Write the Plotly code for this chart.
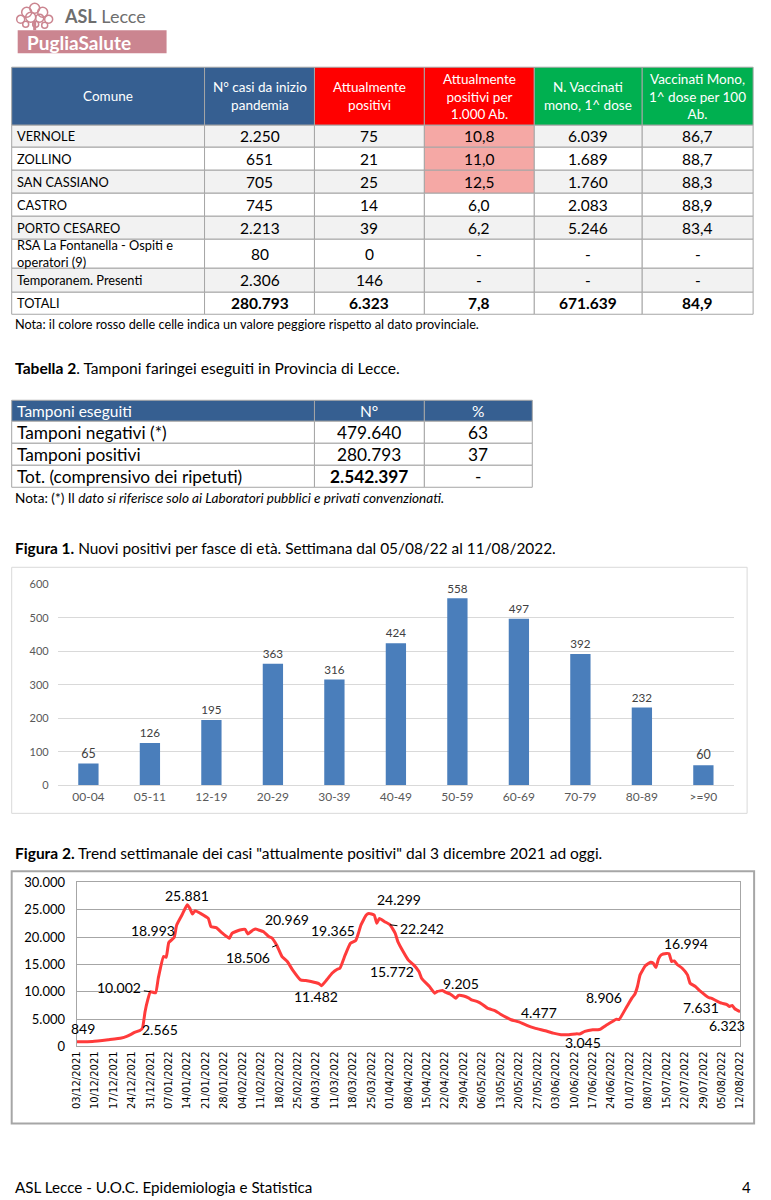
import plotly.graph_objects as go
from datetime import datetime

W, H = 771, 1200
# small correction for the capture's observed offset/scale (layout only)
OFF_X, OFF_Y, SC = 6.3, 6.8, 0.9865
def px(x): return ((x - OFF_X) / SC) / W
def py(y): return 1 - ((y - OFF_Y) / SC) / H

FONT = "Lato"
BLUE = "#365F91"
RED = "#FF0000"
GREEN = "#00B050"
PINK = "#F5A8A5"
GRAYROW = "#F2F2F2"
BORDER = "#A6A6A6"

# ---------------- Table 1 data ----------------
comuni = ["VERNOLE", "ZOLLINO", "SAN CASSIANO", "CASTRO", "PORTO CESAREO",
          "RSA La Fontanella - Ospiti e<br>operatori (9)", "Temporanem. Presenti", "TOTALI"]
casi_totali = [2250, 651, 705, 745, 2213, 80, 2306, 280793]
attualmente_positivi = [75, 21, 25, 14, 39, 0, 146, 6323]
positivi_per_1000 = [10.8, 11.0, 12.5, 6.0, 6.2, None, None, 7.8]
vaccinati_mono = [6039, 1689, 1760, 2083, 5246, None, None, 671639]
vaccinati_per_100 = [86.7, 88.7, 88.3, 88.9, 83.4, None, None, 84.9]
peggiore_provinciale = [True, True, True, False, False, False, False, False]
header_t1 = ["Comune", "N° casi da inizio<br>pandemia", "Attualmente<br>positivi",
             "Attualmente<br>positivi per<br>1.000 Ab.", "N. Vaccinati<br>mono, 1^ dose",
             "Vaccinati Mono,<br>1^ dose per 100<br>Ab."]

# ---------------- Table 2 data ----------------
tamponi_voci = ["Tamponi negativi (*)", "Tamponi positivi", "Tot. (comprensivo dei ripetuti)"]
tamponi_n = [479640, 280793, 2542397]
tamponi_pct = [63, 37, None]
header_t2 = ["Tamponi eseguiti", "N°", "%"]

# ---------------- Figure 1 data ----------------
fasce_eta = ["00-04", "05-11", "12-19", "20-29", "30-39", "40-49", "50-59", "60-69", "70-79", "80-89", ">=90"]
nuovi_positivi = [65, 126, 195, 363, 316, 424, 558, 497, 392, 232, 60]

# ---------------- Figure 2 data ----------------
trend_date = [
    "2021-12-03", "2021-12-09", "2021-12-15", "2021-12-20", "2021-12-22", "2021-12-24", "2021-12-25",
    "2021-12-27", "2021-12-28", "2021-12-29", "2021-12-30", "2021-12-31", "2022-01-02", "2022-01-03",
    "2022-01-05", "2022-01-06", "2022-01-07", "2022-01-09", "2022-01-10", "2022-01-12", "2022-01-14",
    "2022-01-15", "2022-01-16", "2022-01-17", "2022-01-19", "2022-01-22", "2022-01-23", "2022-01-25",
    "2022-01-27", "2022-01-30", "2022-01-31", "2022-02-03", "2022-02-05", "2022-02-06", "2022-02-08",
    "2022-02-09", "2022-02-10", "2022-02-12", "2022-02-14", "2022-02-15", "2022-02-17", "2022-02-19",
    "2022-02-21", "2022-02-23", "2022-02-26", "2022-02-28", "2022-03-02", "2022-03-05", "2022-03-06",
    "2022-03-08", "2022-03-10", "2022-03-12", "2022-03-13", "2022-03-15", "2022-03-17", "2022-03-19",
    "2022-03-20", "2022-03-21", "2022-03-23", "2022-03-24", "2022-03-26", "2022-03-27", "2022-03-28",
    "2022-03-30", "2022-04-01", "2022-04-03", "2022-04-04", "2022-04-06", "2022-04-08", "2022-04-10",
    "2022-04-12", "2022-04-13", "2022-04-16", "2022-04-18", "2022-04-19", "2022-04-21", "2022-04-22",
    "2022-04-24", "2022-04-26", "2022-04-27", "2022-04-29", "2022-05-01", "2022-05-02", "2022-05-04",
    "2022-05-06", "2022-05-08", "2022-05-11", "2022-05-13", "2022-05-15", "2022-05-17", "2022-05-20",
    "2022-05-23", "2022-05-26", "2022-05-30", "2022-06-02", "2022-06-05", "2022-06-08", "2022-06-11",
    "2022-06-12", "2022-06-14", "2022-06-17", "2022-06-19", "2022-06-20", "2022-06-22", "2022-06-25",
    "2022-06-26", "2022-06-27", "2022-06-30", "2022-07-02", "2022-07-03", "2022-07-04", "2022-07-05",
    "2022-07-07", "2022-07-09", "2022-07-10", "2022-07-11", "2022-07-12", "2022-07-13", "2022-07-15",
    "2022-07-16", "2022-07-17", "2022-07-18", "2022-07-19", "2022-07-21", "2022-07-23", "2022-07-24",
    "2022-07-26", "2022-07-28", "2022-07-31", "2022-08-01", "2022-08-03", "2022-08-05", "2022-08-07",
    "2022-08-08", "2022-08-09", "2022-08-10", "2022-08-12",
]
trend_positivi = [
    849, 900, 1220, 1520, 1820, 2300, 2565,
    2900, 3340, 6390, 8500, 10002, 9800, 12460,
    16420, 16300, 18993, 19890, 22200, 24030, 25881,
    25240, 24210, 24820, 24330, 23410, 21900, 21720,
    20860, 19760, 20680, 21290, 21400, 20570, 21290,
    21480, 21300, 20969, 20070, 19890, 18506, 16420,
    15510, 14000, 12170, 12040, 11860, 11482, 11100,
    12170, 13380, 14110, 14290, 16730, 18850, 19365,
    20680, 22210, 24030, 24299, 24030, 22500, 23410,
    22810, 22242, 20680, 19160, 17340, 15772, 14910,
    13690, 12470, 10950, 9730, 10040, 10220, 9910,
    9540, 8810, 9310, 9205, 8810, 8520, 8210,
    7720, 6990, 6510, 5890, 5350, 4870, 4477,
    3830, 3340, 2860, 2430, 2140, 2140, 2320,
    2250, 2740, 3045, 3050, 3160, 3830, 4690,
    4980, 4900, 7300, 8906, 9540, 10950, 13080,
    14730, 15390, 15210, 14420, 16000, 16730, 16994,
    16950, 15510, 15640, 15020, 14290, 13080, 11550,
    10950, 10040, 8940, 8810, 8340, 7900, 7631,
    7300, 7480, 6880, 6323,
]
tick_labels_fig2 = [
    "03/12/2021", "10/12/2021", "17/12/2021", "24/12/2021", "31/12/2021", "07/01/2022", "14/01/2022",
    "21/01/2022", "28/01/2022", "04/02/2022", "11/02/2022", "18/02/2022", "25/02/2022", "04/03/2022",
    "11/03/2022", "18/03/2022", "25/03/2022", "01/04/2022", "08/04/2022", "15/04/2022", "22/04/2022",
    "29/04/2022", "06/05/2022", "13/05/2022", "20/05/2022", "27/05/2022", "03/06/2022", "10/06/2022",
    "17/06/2022", "24/06/2022", "01/07/2022", "08/07/2022", "15/07/2022", "22/07/2022", "29/07/2022",
    "05/08/2022", "12/08/2022",
]
# labelled points -> (dx, dy, leader line) in screen pixels (style only)
label_style = {
    "2021-12-03": (6, -13, False), "2021-12-25": (25, -3, False), "2021-12-31": (-31, -4, True),
    "2022-01-07": (-16, -12, False), "2022-01-14": (0, -9, False), "2022-02-12": (23, -12, False),
    "2022-02-17": (-29, 12, True), "2022-03-05": (-3, 13, False), "2022-03-19": (-23, -10, False),
    "2022-03-24": (30, -14, False), "2022-04-01": (32, 4, True), "2022-04-08": (-16, 11, False),
    "2022-04-29": (-3, -13, False), "2022-05-20": (20, -9, False), "2022-06-17": (-10, 13, False),
    "2022-07-02": (-28, 0, False), "2022-07-15": (20, -10, False), "2022-08-07": (-26, 3, False),
    "2022-08-12": (-13, 14, False),
}

# ---------------- table geometry (pixels, style only) ----------------
T1_COLS = [12, 205, 315, 425, 535, 643, 754]
T1_ROWS = [66, 124, 146, 169, 192, 215, 238, 267, 291, 313]
T2_COLS = [12, 315, 425, 533]
T2_ROWS = [399, 420, 442, 464, 486]


def it_int(v):
    return "-" if v is None else f"{v:,}".replace(",", ".")


def it_dec(v):
    return "-" if v is None else f"{v:.1f}".replace(".", ",")


fig = go.Figure()
annotations = []
shapes = []


def txt(x, y, text, size, color="black", xanchor="left", family=FONT, align="left"):
    annotations.append(dict(x=px(x), y=py(y), xref="paper", yref="paper", text=text,
                            showarrow=False, xanchor=xanchor, yanchor="middle", align=align,
                            font=dict(family=family, size=size, color=color)))


def cell(x0, x1, y0, y1, fill):
    shapes.append(dict(type="rect", xref="paper", yref="paper", x0=px(x0), x1=px(x1),
                       y0=py(y1), y1=py(y0), fillcolor=fill, line=dict(color=BORDER, width=1),
                       layer="below"))


def draw_table(cols, rows, header, header_fills, header_size, header_align, body_cols,
               body_fills, body_sizes, body_align, bold_last_row):
    for j, htxt in enumerate(header):
        x0, x1 = cols[j], cols[j + 1]
        cell(x0, x1, rows[0], rows[1], header_fills[j])
        if header_align[j] == "left":
            txt(x0 + 3, (rows[0] + rows[1]) / 2, htxt, header_size, color="white")
        else:
            txt((x0 + x1) / 2, (rows[0] + rows[1]) / 2, htxt, header_size, color="white",
                xanchor="center", align="center")
    nrows = len(body_cols[0])
    for i in range(nrows):
        y0, y1 = rows[i + 1], rows[i + 2]
        for j, col in enumerate(body_cols):
            x0, x1 = cols[j], cols[j + 1]
            cell(x0, x1, y0, y1, body_fills[j][i])
            t = col[i]
            if bold_last_row and i == nrows - 1 and j > 0:
                t = "<b>" + t + "</b>"
            if body_align[j] == "left":
                txt(x0 + 3, (y0 + y1) / 2, t, body_sizes[j])
            else:
                txt((x0 + x1) / 2, (y0 + y1) / 2, t, body_sizes[j], xanchor="center", align="center")


# ---------------- Table 1 ----------------
n = len(comuni)
row_fill = [GRAYROW if i % 2 == 0 else "white" for i in range(n)]
fill_1000 = [PINK if p else row_fill[i] for i, p in enumerate(peggiore_provinciale)]
draw_table(T1_COLS, T1_ROWS, header_t1, [BLUE, BLUE, RED, RED, GREEN, GREEN], 13.5,
           ["center"] * 6,
           [comuni, [it_int(v) for v in casi_totali], [it_int(v) for v in attualmente_positivi],
            [it_dec(v) for v in positivi_per_1000], [it_int(v) for v in vaccinati_mono],
            [it_dec(v) for v in vaccinati_per_100]],
           [row_fill, row_fill, row_fill, fill_1000, row_fill, row_fill],
           [12.8, 15.5, 15.5, 15.5, 15.5, 15.5], ["left"] + ["center"] * 5, True)

# ---------------- Table 2 ----------------
white3 = ["white"] * len(tamponi_voci)
draw_table(T2_COLS, T2_ROWS, header_t2, [BLUE, BLUE, BLUE], 15.5, ["left", "center", "center"],
           [tamponi_voci, [it_int(v) for v in tamponi_n[:-1]] + ["<b>" + it_int(tamponi_n[-1]) + "</b>"],
            [it_int(v) for v in tamponi_pct]],
           [white3, white3, white3], [17.3, 17.3, 17.3], ["left", "center", "center"], False)

# ---------------- Figure 1 ----------------
fig.add_trace(go.Bar(
    x=fasce_eta, y=nuovi_positivi, xaxis="x", yaxis="y",
    marker=dict(color="#4A7EBB", line=dict(width=0)),
    text=nuovi_positivi, textposition="outside", cliponaxis=False,
    textfont=dict(family=FONT, size=12.5, color="#404040"),
    showlegend=False, hoverinfo="skip",
))

# ---------------- Figure 2 ----------------
fig.add_trace(go.Scatter(
    x=trend_date, y=trend_positivi, xaxis="x2", yaxis="y2", mode="lines",
    line=dict(color="#FF3B3B", width=3, shape="spline", smoothing=0.4),
    showlegend=False, hoverinfo="skip",
))

tick_vals_fig2 = [datetime.strptime(t, "%d/%m/%Y").strftime("%Y-%m-%d") for t in tick_labels_fig2]

for d, v in zip(trend_date, trend_positivi):
    if d in label_style:
        dx, dy, leader = label_style[d]
        a = dict(x=d, y=v, xref="x2", yref="y2", text=it_int(v),
                 font=dict(family=FONT, size=14, color="black"))
        if leader:
            a.update(showarrow=True, ax=dx, ay=dy, arrowhead=0, arrowwidth=1,
                     arrowcolor="black", standoff=0, startstandoff=1)
        else:
            a.update(showarrow=False, xshift=dx, yshift=-dy)
        annotations.append(a)

# logo texts
txt(62, 15, "<b>ASL</b> Lecce", 18, color="#6E6E6E")
txt(25, 41, "<b>PugliaSalute</b>", 19, color="white")
# notes and titles
txt(13, 323, "Nota: il colore rosso delle celle indica un valore peggiore rispetto al dato provinciale.", 12.7)
txt(13, 367, "<b>Tabella 2</b>. Tamponi faringei eseguiti in Provincia di Lecce.", 15.6)
txt(13, 497, "Nota: (*) Il <i>dato si riferisce solo ai Laboratori pubblici e privati convenzionati.</i>", 13.6)
txt(13, 547, "<b>Figura 1.</b> Nuovi positivi per fasce di età. Settimana dal 05/08/22 al 11/08/2022.", 15.4)
txt(13, 852, "<b>Figura 2.</b> Trend settimanale dei casi \"attualmente positivi\" dal 3 dicembre 2021 ad oggi.", 15.5)
txt(13, 1186, "ASL Lecce - U.O.C. Epidemiologia e Statistica", 15.2)
txt(754, 1186, "4", 15, xanchor="right")

# logo: pink band and a stylised tree
shapes.append(dict(type="rect", xref="paper", yref="paper", x0=px(18), x1=px(167), y0=py(52), y1=py(29),
                   fillcolor="#CB8590", line=dict(width=0), layer="below"))
for cx, cy, r in [(35, 7, 5), (27, 11, 5), (43, 11, 5), (21, 18, 4), (31, 16, 5), (40, 17, 4), (49, 18, 4),
                  (26, 23, 3), (36, 23, 3), (45, 24, 3)]:
    shapes.append(dict(type="circle", xref="paper", yref="paper", x0=px(cx - r), x1=px(cx + r),
                       y0=py(cy + r), y1=py(cy - r), line=dict(color="#CB8590", width=1.5)))
shapes.append(dict(type="line", xref="paper", yref="paper", x0=px(35), x1=px(35), y0=py(29), y1=py(20),
                   line=dict(color="#CB8590", width=3)))
# chart frames
shapes.append(dict(type="rect", xref="paper", yref="paper", x0=px(12), x1=px(748), y0=py(812), y1=py(566),
                   line=dict(color="#D9D9D9", width=1)))
shapes.append(dict(type="rect", xref="paper", yref="paper", x0=px(12), x1=px(755), y0=py(1122), y1=py(870),
                   line=dict(color="#A6A6A6", width=2)))

fig.update_layout(
    width=W, height=H, margin=dict(l=0, r=0, t=0, b=0),
    paper_bgcolor="white", plot_bgcolor="white",
    separators=",.", bargap=0.67, showlegend=False,
    font=dict(family=FONT, color="black"),
    xaxis=dict(domain=[px(58), px(735)], anchor="y", type="category", showgrid=False, showline=True,
               linecolor="#D9D9D9", ticks="", tickfont=dict(family=FONT, size=12, color="#595959"),
               fixedrange=True),
    yaxis=dict(domain=[py(784), py(583)], anchor="x", range=[0, 600], dtick=100,
               showgrid=True, gridcolor="#D9D9D9", zeroline=False, showline=False, ticks="",
               tickfont=dict(family=FONT, size=11, color="#595959"), ticklabelstandoff=8,
               fixedrange=True),
    xaxis2=dict(domain=[px(77), px(741)], anchor="y2", type="date",
                range=["2021-12-03", "2022-08-12"], tickvals=tick_vals_fig2, ticktext=tick_labels_fig2,
                tickangle=-90, showgrid=False, showline=True, mirror=True, linecolor="#A6A6A6",
                ticks="", tickfont=dict(family="DejaVu Sans", size=10, color="black"), fixedrange=True),
    yaxis2=dict(domain=[py(1045), py(881)], anchor="x2", range=[0, 30000], dtick=5000,
                tickformat=",d", showgrid=True, gridcolor="#A6A6A6", zeroline=False, showline=True,
                mirror=True, linecolor="#A6A6A6", ticks="", ticklabelstandoff=8,
                tickfont=dict(family=FONT, size=13, color="black"), fixedrange=True),
    annotations=annotations, shapes=shapes,
)

fig.write_html(
    "out.html",
    config={"displayModeBar": False},
    post_script=("document.documentElement.style.margin='0';"
                 "document.documentElement.style.padding='0';"
                 "document.body.style.margin='0';document.body.style.padding='0';"
                 "document.documentElement.style.overflow='hidden';"),
)
